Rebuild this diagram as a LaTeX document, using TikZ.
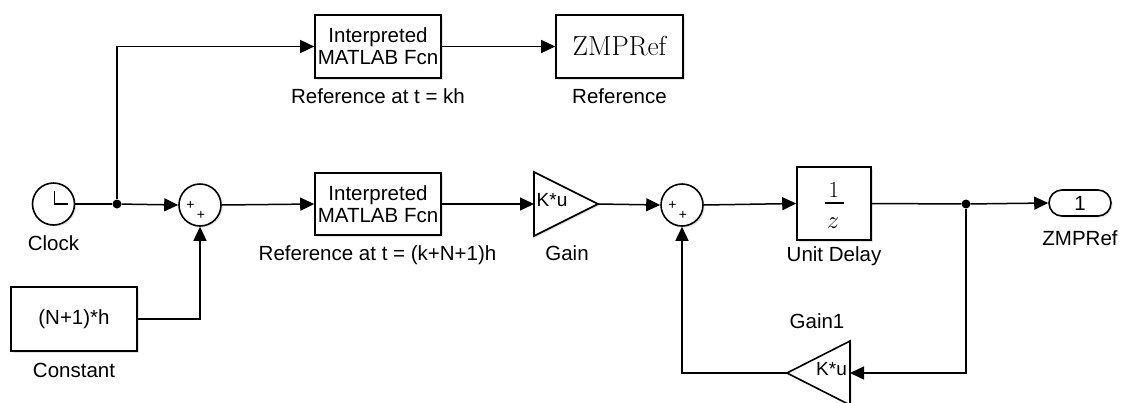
\documentclass[tikz,border=0pt]{standalone}
\usepackage{fontspec}
\newfontfamily\arial{Liberation Sans}
\usetikzlibrary{arrows.meta,shadows}
\tikzset{
  wire/.style={line width=1.5pt},
  arr/.style={wire,-{Triangle[length=14pt,width=13pt]}},
  blk/.style={draw,line width=1.6pt,fill=white,drop shadow={opacity=0.22,shadow xshift=1.6pt,shadow yshift=-1.6pt},inner sep=0pt},
  sans/.style={font=\arial\fontsize{20.5}{22}\selectfont},
  lbl/.style={sans,anchor=base,inner sep=0pt},
  dot/.style={circle,fill,inner sep=0pt,minimum size=9pt},
  plus/.style={font=\arial\fontsize{14}{14}\selectfont,inner sep=0pt},
  gaintxt/.style={font=\arial\fontsize{19}{19}\selectfont,inner sep=0pt},
  frame/.style={inner sep=0pt,outer sep=0pt},
}
\begin{document}
\begin{tikzpicture}[x=1pt,y=-1pt]
\fill[white] (0,0) rectangle (1122,402);
\useasboundingbox (0,0) rectangle (1122,402);

% Clock
\node[blk,circle,minimum size=42pt] (clock) at (53.5,204) {};
\draw[wire] (clock.center) ++(1,-13) -- ++(0,13) -- ++(13,0);
\node[lbl] (clocklbl) at (53.5,250) {Clock};

% Constant
\node[blk,sans,minimum width=126pt,minimum height=64pt] (const) at (74,319) {(N+1)*h};
\node[lbl] (constlbl) at (74,377) {Constant};

% junctions
\node[dot] (j1) at (117,204) {};
\node[dot] (j2) at (966,204) {};

% Sum 1
\node[blk,circle,minimum size=42pt] (sum1) at (200,205) {};
\node[plus] (s1a) at (190.5,205) {+};
\node[plus] (s1b) at (201,215.5) {+};

% Interpreted MATLAB Fcn blocks
\node[blk,sans,align=center,minimum width=126pt,minimum height=63pt] (fcn1) at (378,46.5) {Interpreted\\MATLAB Fcn};
\node[lbl] (fcn1lbl) at (378,103) {Reference at t = kh};
\node[blk,sans,align=center,minimum width=126pt,minimum height=62pt] (fcn2) at (378,204) {Interpreted\\MATLAB Fcn};
\node[lbl] (fcn2lbl) at (377.5,260) {Reference at t = (k+N+1)h};

% ZMPRef display block
\node[blk,font=\fontsize{27.5}{30}\selectfont,minimum width=127pt,minimum height=63pt] (zmp) at (619.5,46.5) {ZMPRef};
\node[lbl] (zmplbl) at (619.5,103) {Reference};

% Gain
\node[frame,minimum width=64pt,minimum height=64pt] (gain) at (566,204) {};
\draw[blk] (gain.north west) -- (gain.east) -- (gain.south west) -- cycle;
\node[gaintxt] (gaink) at (552,200) {K*u};
\node[lbl] (gainlbl) at (567,260) {Gain};

% Sum 2
\node[blk,circle,minimum size=42pt] (sum2) at (682,205) {};
\node[plus] (s2a) at (672.5,205) {+};
\node[plus] (s2b) at (683,215.5) {+};

% Unit delay
\node[blk,minimum width=74pt,minimum height=73pt] (delay) at (834,203.5) {};
\node[anchor=base,inner sep=0pt,font=\fontsize{23}{23}\selectfont] (dnum) at (834,197) {1};
\node[anchor=base,inner sep=0pt,font=\fontsize{35}{35}\selectfont] (dden) at (833,228) {$z$};
\draw[line width=1.5pt] (dnum.base) ++(-9.5,6) -- ++(19,0);
\node[lbl] (delaylbl) at (834,261) {Unit Delay};

% Outport
\node[blk,sans,rounded corners=13pt,minimum width=62pt,minimum height=26pt] (out) at (1080,203) {1};
\node[lbl] (outlbl) at (1080,245) {ZMPRef};

% Gain1
\node[frame,minimum width=63pt,minimum height=64pt] (g1) at (818.5,373) {};
\draw[blk] (g1.north east) -- (g1.west) -- (g1.south east) -- cycle;
\node[gaintxt] (g1k) at (831.5,369.5) {K*u};
\node[lbl] (g1lbl) at (817,328) {Gain1};

% connectors
\draw[wire] (clock.east) -- (j1);
\draw[arr] (j1) -- (sum1.west);
\draw[arr] (j1) |- (fcn1.west);
\draw[arr] (const.east) -| (sum1.south);
\draw[arr] (sum1.east) -- (fcn2.west);
\draw[arr] (fcn1.east) -- (zmp.west);
\draw[arr] (fcn2.east) -- (gain.west);
\draw[arr] (gain.east) -- (sum2.west);
\draw[arr] (sum2.east) -- (delay.west);
\draw[wire] (delay.east) -- (j2);
\draw[arr] (j2) -- (out.west);
\draw[arr] (j2) |- (g1.east);
\draw[arr] (g1.west) -| (sum2.south);
\end{tikzpicture}
\end{document}
